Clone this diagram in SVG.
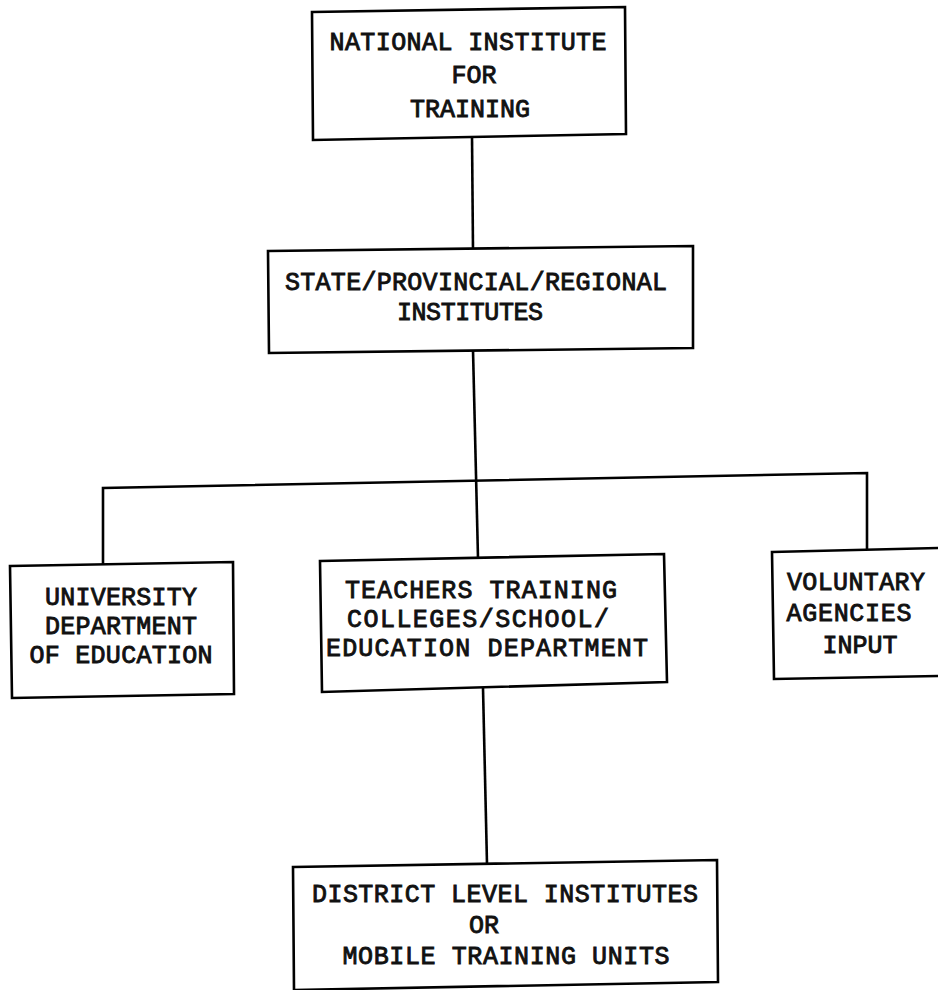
<svg xmlns="http://www.w3.org/2000/svg" width="938" height="990" viewBox="0 0 938 990">
<style>
.box{fill:#fff;stroke:#000;stroke-width:2.6;stroke-linejoin:miter}
.ln{fill:none;stroke:#000;stroke-width:2.6}
text{font-family:"Liberation Mono","DejaVu Sans Mono",monospace;font-size:25px;fill:#111;stroke:#111;stroke-width:0.9;text-anchor:middle}
</style>
<rect width="938" height="990" fill="#fff"/>
<g id="connectors">
<line class="ln" x1="472" y1="136" x2="473" y2="250"/>
<line class="ln" x1="473" y1="350" x2="478" y2="558"/>
<polyline class="ln" points="103,565 103,488 867,473 867,551"/>
<line class="ln" x1="483" y1="688" x2="487" y2="864"/>
</g>
<g id="national">
<polygon class="box" points="312,12 625,7 626,134 313,140"/>
<text x="468" y="50" textLength="277" lengthAdjust="spacing">NATIONAL INSTITUTE</text>
<text x="474" y="83">FOR</text>
<text x="470" y="117" textLength="120" lengthAdjust="spacing">TRAINING</text>
</g>
<g id="state">
<polygon class="box" points="268,251 693,246 693,348 269,353"/>
<text x="476" y="290" textLength="382" lengthAdjust="spacing">STATE/PROVINCIAL/REGIONAL</text>
<text x="470" y="320" textLength="146" lengthAdjust="spacing">INSTITUTES</text>
</g>
<g id="university">
<polygon class="box" points="10,566 233,562 234,694 12,698"/>
<text x="121" y="605" textLength="152" lengthAdjust="spacing">UNIVERSITY</text>
<text x="121" y="634" textLength="152" lengthAdjust="spacing">DEPARTMENT</text>
<text x="121" y="663" textLength="183" lengthAdjust="spacing">OF EDUCATION</text>
</g>
<g id="teachers">
<polygon class="box" points="320,561 664,554 667,682 322,692"/>
<text x="481" y="598" textLength="272" lengthAdjust="spacing">TEACHERS TRAINING</text>
<text x="478" y="627" textLength="262" lengthAdjust="spacing">COLLEGES/SCHOOL/</text>
<text x="487" y="656" textLength="322" lengthAdjust="spacing">EDUCATION DEPARTMENT</text>
</g>
<g id="voluntary">
<polygon class="box" points="772,552 940,548 940,676 774,679"/>
<text x="856" y="590" textLength="138" lengthAdjust="spacing">VOLUNTARY</text>
<text x="849" y="621" textLength="125" lengthAdjust="spacing">AGENCIES</text>
<text x="860" y="653" textLength="75" lengthAdjust="spacing">INPUT</text>
</g>
<g id="district">
<polygon class="box" points="293,867 717,860 718,982 294,990"/>
<text x="505" y="902" textLength="386" lengthAdjust="spacing">DISTRICT LEVEL INSTITUTES</text>
<text x="484" y="933">OR</text>
<text x="506" y="964" textLength="327" lengthAdjust="spacing">MOBILE TRAINING UNITS</text>
</g>
</svg>
